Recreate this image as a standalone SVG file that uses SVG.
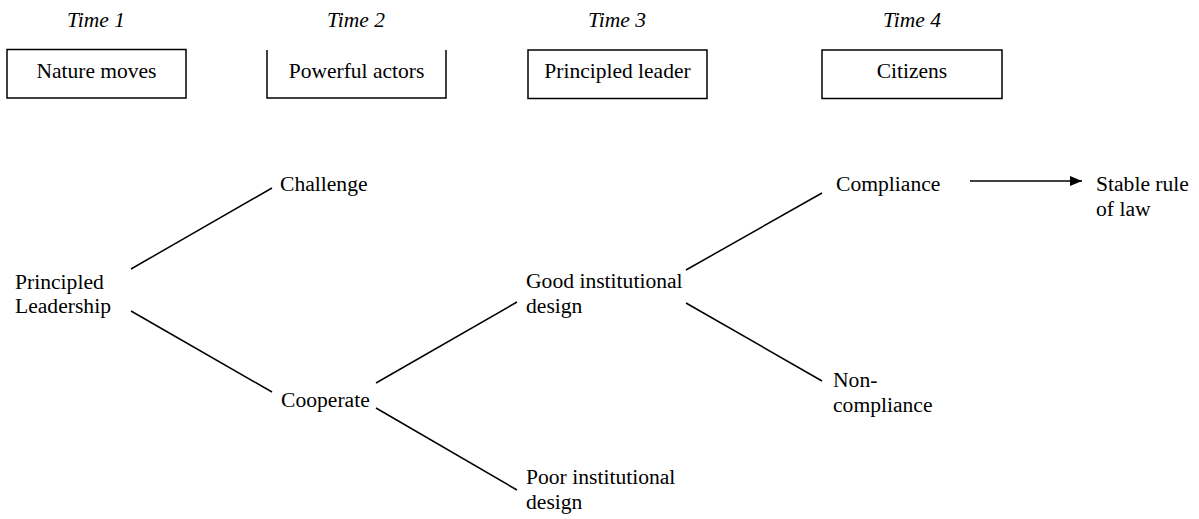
<svg xmlns="http://www.w3.org/2000/svg" width="1199" height="519" viewBox="0 0 1199 519" font-family="Liberation Serif, DejaVu Serif, serif">
<style>
text{font-family:'Liberation Serif','DejaVu Serif',serif;font-size:21.6px;fill:#000}
.t{font-style:italic;font-size:21.5px;text-anchor:middle}
.bx{text-anchor:middle;font-size:21.5px}
.b{fill:#fff;stroke:#000;stroke-width:1.5}
.c line{stroke:#000;stroke-width:1.5}
</style>
<defs>
<marker id="ah" markerWidth="12" markerHeight="10" refX="12" refY="5" orient="auto" markerUnits="userSpaceOnUse">
<path d="M0,0 L12,5 L0,10 Z" fill="#000"/>
</marker>
</defs>
<g id="time1"><text class="t" x="96" y="27">Time 1</text></g>
<g id="time2"><text class="t" x="356" y="27">Time 2</text></g>
<g id="time3"><text class="t" x="617" y="27">Time 3</text></g>
<g id="time4"><text class="t" x="912" y="27">Time 4</text></g>
<g id="box-nature"><rect class="b" x="7" y="49.5" width="179" height="48.5"/><text class="bx" x="96.5" y="78">Nature moves</text></g>
<g id="box-powerful"><path d="M267,50 V98 H446 V50" fill="none" stroke="#000" stroke-width="1.5"/><text class="bx" x="356.5" y="78">Powerful actors</text></g>
<g id="box-leader"><rect class="b" x="528" y="50" width="179" height="48.5"/><text class="bx" x="617.5" y="78">Principled leader</text></g>
<g id="box-citizens"><rect class="b" x="822" y="50" width="180" height="48.5"/><text class="bx" x="912" y="78">Citizens</text></g>
<g id="n-leadership"><text x="15" y="289">Principled</text><text x="15" y="313">Leadership</text></g>
<g id="n-challenge"><text x="280" y="191">Challenge</text></g>
<g id="n-cooperate"><text x="281" y="407">Cooperate</text></g>
<g id="n-good"><text x="526" y="288">Good institutional</text><text x="526" y="313">design</text></g>
<g id="n-poor"><text x="526" y="484">Poor institutional</text><text x="526" y="509">design</text></g>
<g id="n-compliance"><text x="836" y="191">Compliance</text></g>
<g id="n-noncompliance"><text x="833" y="387">Non-</text><text x="833" y="412">compliance</text></g>
<g id="n-stable"><text x="1096" y="191">Stable rule</text><text x="1096" y="216">of law</text></g>
<g id="connectors" class="c">
<line x1="131" y1="269" x2="272" y2="188"/>
<line x1="131" y1="311" x2="272" y2="392"/>
<line x1="376" y1="383" x2="517" y2="302"/>
<line x1="376" y1="408" x2="517" y2="490"/>
<line x1="686" y1="270" x2="822" y2="193"/>
<line x1="686" y1="303" x2="822" y2="381"/>
<line x1="970" y1="181" x2="1082" y2="181" marker-end="url(#ah)"/>
</g>
</svg>
